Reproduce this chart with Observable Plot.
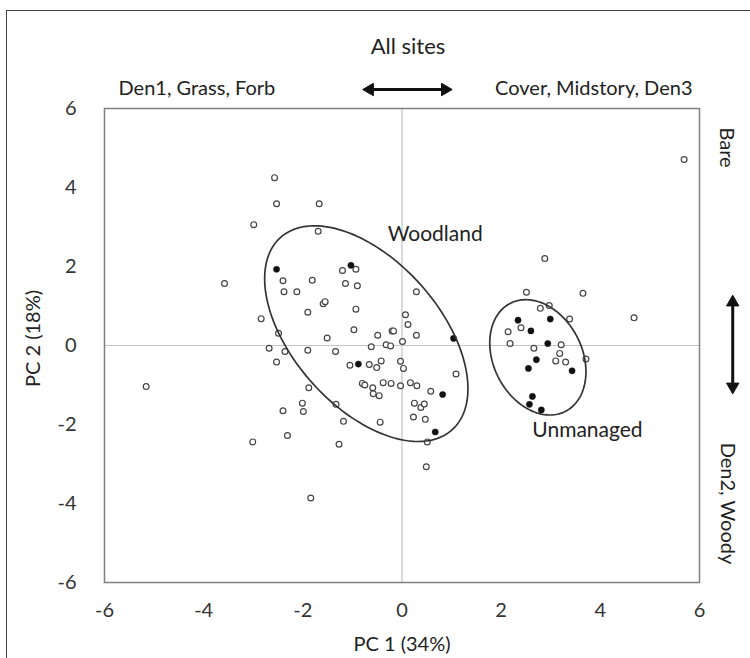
<!DOCTYPE html>
<html><head><meta charset="utf-8">
<script src="https://cdn.jsdelivr.net/npm/d3@7"></script>
<script src="https://cdn.jsdelivr.net/npm/@observablehq/plot@0.6"></script>
<style>
body{margin:0;background:#fff;overflow:hidden;}
#wrap{position:relative;width:750px;height:658px;overflow:hidden;}
#border{position:absolute;left:6px;top:10px;width:800px;height:700px;border-left:1.5px solid #444;border-top:1.5px solid #444;pointer-events:none;}
#chart{position:absolute;left:0;top:0;}
</style></head><body>
<div id="wrap"><div id="chart"></div><div id="border"></div></div>
<script>
// Open circles (PC1, PC2)
const openX = [-2.57,-2.53,-1.67,-2.99,-1.69,-1.20,-0.93,-3.58,-2.40,-1.81,-2.38,-2.12,-1.14,-0.90,-1.59,-1.55,-0.93,-1.90,-2.84,0.29,
  0.07,0.12,0.29,-0.97,-0.20,-0.17,-0.49,-1.51,-2.49,0.01,-0.62,-0.32,-0.23,-2.68,-2.36,-1.90,-1.34,-2.53,-1.05,-0.66,
  -0.51,-0.42,-0.03,0.03,1.09,-1.88,-0.80,-0.75,-0.59,-0.58,-0.46,-0.38,-0.22,-0.03,0.17,0.30,0.58,0.25,0.38,0.45,
  0.23,0.47,0.51,0.49,-2.01,-1.99,-2.40,-1.33,-1.18,-0.44,-2.31,-3.01,-1.27,-1.84,-5.16,5.69,
  2.88,2.51,3.65,2.79,2.97,3.38,4.68,2.40,2.14,2.18,3.21,2.66,3.18,3.71,3.10,3.30];
const openY = [4.25,3.59,3.59,3.06,2.89,1.90,1.93,1.57,1.64,1.65,1.36,1.36,1.57,1.51,1.06,1.11,0.92,0.84,0.68,1.36,
  0.78,0.53,0.26,0.40,0.37,0.37,0.26,0.19,0.31,0.10,-0.03,0.02,-0.01,-0.07,-0.15,-0.12,-0.15,-0.42,-0.50,-0.48,
  -0.56,-0.39,-0.40,-0.58,-0.72,-1.07,-0.96,-1.00,-1.07,-1.22,-1.27,-0.94,-0.96,-1.02,-0.94,-1.02,-1.16,-1.46,-1.57,-1.48,
  -1.81,-1.87,-2.44,-3.07,-1.46,-1.67,-1.65,-1.49,-1.92,-1.94,-2.28,-2.44,-2.50,-3.86,-1.04,4.71,
  2.20,1.35,1.32,0.94,1.01,0.67,0.70,0.45,0.35,0.05,0.02,-0.07,-0.20,-0.34,-0.39,-0.42];
// Filled circles
const filledX = [-2.53,-1.03,-0.88,1.04,0.82,0.67,2.34,2.99,2.60,2.94,2.71,2.55,3.43,2.63,2.57,2.81];
const filledY = [1.93,2.03,-0.47,0.18,-1.24,-2.19,0.64,0.67,0.37,0.05,-0.36,-0.58,-0.64,-1.29,-1.49,-1.63];

const xTicks = [-6,-4,-2,0,2,4,6];
const yTicks = [-6,-4,-2,0,2,4,6];

// Group ellipses: centre, radii (x,y extents) and correlation
const ellipseNames = ["Woodland","Unmanaged"];
const ellipseCx = [-0.72, 2.74];
const ellipseCy = [0.30, -0.30];
const ellipseRx = [2.05, 0.97];
const ellipseRy = [2.73, 1.46];
const ellipseRho = [-0.51, -0.25];
const ellipseLabelX = [0.67, 3.74];
const ellipseLabelY = [2.81, -2.15];

// Direction annotations
const topLeftLabel = "Den1, Grass, Forb";
const topRightLabel = "Cover, Midstory, Den3";
const titleLabel = "All sites";
const rightTopLabel = "Bare";
const rightBottomLabel = "Den2, Woody";
const xLabel = "PC 1 (34%)";
const yLabel = "PC 2 (18%)";
const hArrowX = [-0.79, 1.01]; const hArrowY = 6.48;
const vArrowX = 6.67; const vArrowY = [1.27, -1.22];

const openPts = openX.map((x,i)=>({x, y: openY[i]}));
const filledPts = filledX.map((x,i)=>({x, y: filledY[i]}));
const ellipsePts = [];
ellipseNames.forEach((name,k)=>{
  const s = Math.sqrt(1 - ellipseRho[k]*ellipseRho[k]);
  for (let a = 0; a < 360; a += 2) {
    const t = a*Math.PI/180;
    ellipsePts.push({name,
      x: ellipseCx[k] + ellipseRx[k]*Math.cos(t),
      y: ellipseCy[k] + ellipseRy[k]*(ellipseRho[k]*Math.cos(t) + s*Math.sin(t))});
  }
});
const ellipseLabels = ellipseNames.map((n,k)=>({n, x: ellipseLabelX[k], y: ellipseLabelY[k]}));
const shafts = [
  {x1: hArrowX[0] + 0.12, y1: hArrowY, x2: hArrowX[1] - 0.12, y2: hArrowY},
  {x1: vArrowX, y1: vArrowY[0] - 0.15, x2: vArrowX, y2: vArrowY[1] + 0.15}
];
const headStyle = {symbol: "triangle", r: 4.6, fill: "#111", stroke: "#111", strokeWidth: 1};

const FONT = "Lato, 'Open Sans', sans-serif";
const ink = "#222";
const txt = (label, opts) => Plot.text([label], {text: d => d, fontSize: 20, fill: ink, lineAnchor: "middle", ...opts});

const plot = Plot.plot({
  width: 750, height: 658,
  marginLeft: 104, marginRight: 51, marginTop: 108, marginBottom: 76,
  style: {fontFamily: FONT, fontSize: "20px", color: "#333", background: "transparent"},
  x: {domain: [-6,6], ticks: xTicks, tickSize: 0, tickPadding: 20, tickFormat: d => String(d), label: null},
  y: {domain: [-6,6], ticks: yTicks, tickSize: 0, tickPadding: 28, tickFormat: d => String(d), label: null},
  marks: [
    Plot.ruleX([0], {stroke: "#c4c4c4", strokeWidth: 1.2}),
    Plot.ruleY([0], {stroke: "#c4c4c4", strokeWidth: 1.2}),
    Plot.frame({stroke: "#808080", strokeWidth: 1.5}),
    Plot.dot(openPts, {x: "x", y: "y", r: 2.9, stroke: "#444", strokeWidth: 1.2, fill: "white"}),
    Plot.dot(filledPts, {x: "x", y: "y", r: 3.1, fill: "#111", stroke: "#111", strokeWidth: 0.5}),
    Plot.line(ellipsePts, {x: "x", y: "y", z: "name", curve: "linear-closed", stroke: "#333", strokeWidth: 1.7}),
    Plot.text(ellipseLabels, {x: "x", y: "y", text: "n", fontSize: 21, fill: ink}),
    Plot.link(shafts, {x1: "x1", y1: "y1", x2: "x2", y2: "y2", stroke: "#111", strokeWidth: 3}),
    Plot.dot([{x: hArrowX[0], y: hArrowY}], {x: "x", y: "y", rotate: -90, dx: 7, ...headStyle}),
    Plot.dot([{x: hArrowX[1], y: hArrowY}], {x: "x", y: "y", rotate: 90, dx: -7, ...headStyle}),
    Plot.dot([{x: vArrowX, y: vArrowY[0]}], {x: "x", y: "y", rotate: 0, dy: 7, ...headStyle}),
    Plot.dot([{x: vArrowX, y: vArrowY[1]}], {x: "x", y: "y", rotate: 180, dy: -7, ...headStyle}),
    txt(titleLabel, {frameAnchor: "top", textAnchor: "middle", dx: 6, dy: -62, fontSize: 22}),
    txt(topLeftLabel, {frameAnchor: "top-left", textAnchor: "start", dx: 14, dy: -20}),
    txt(topRightLabel, {frameAnchor: "top-right", textAnchor: "end", dx: -7, dy: -20}),
    txt(rightTopLabel, {frameAnchor: "top-right", textAnchor: "middle", dx: 27, dy: 39, rotate: 90}),
    txt(rightBottomLabel, {frameAnchor: "bottom-right", textAnchor: "middle", dx: 28, dy: -79, rotate: 90}),
    txt(xLabel, {frameAnchor: "bottom", textAnchor: "middle", dy: 62}),
    txt(yLabel, {frameAnchor: "left", textAnchor: "middle", dx: -71, dy: -7, rotate: -90})
  ]
});
document.getElementById("chart").appendChild(plot);
</script>
</body></html>
